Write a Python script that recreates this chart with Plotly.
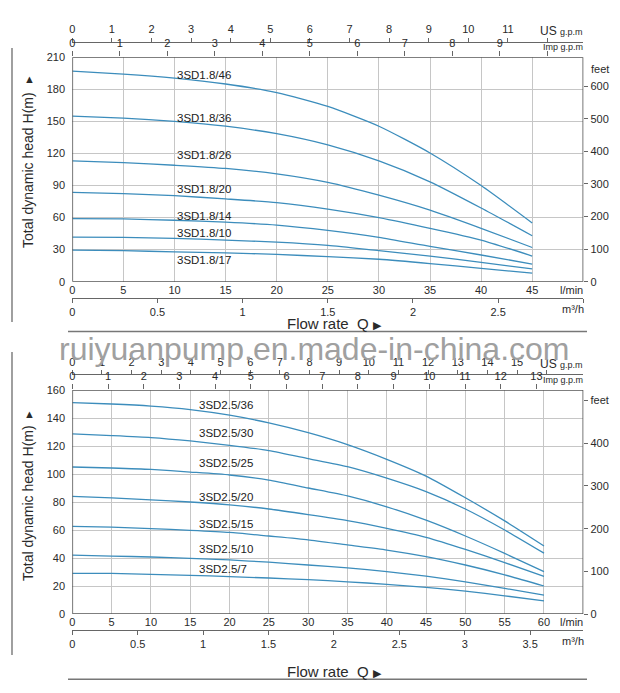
import plotly.graph_objects as go

W, H = 620, 693

# ---- 3SD1.8 series (flow in l/min, head in m) ----
q18 = [0, 5, 10, 15, 20, 25, 30, 35, 40, 45]
h18_46 = [197, 194.3, 190.5, 185, 177, 164, 145.5, 120.5, 90, 55]
h18_36 = [155, 153, 150, 145.5, 138.5, 128, 113, 93.5, 69, 43]
h18_26 = [113, 111.5, 109, 106, 101, 93, 81, 67, 50, 32]
h18_20 = [83.5, 82.5, 80.5, 77.5, 74, 68, 60, 50, 39, 24]
h18_14 = [59, 58.7, 57.5, 55.7, 53, 48, 41.5, 33, 25, 16.5]
h18_10 = [41.7, 41.4, 40.5, 39, 37, 34, 29, 24, 18, 12]
h18_17 = [29.5, 29, 28, 27, 25.5, 23.5, 21, 17, 12.5, 8]
names18 = ["3SD1.8/46", "3SD1.8/36", "3SD1.8/26", "3SD1.8/20",
           "3SD1.8/14", "3SD1.8/10", "3SD1.8/17"]
curves18 = [h18_46, h18_36, h18_26, h18_20, h18_14, h18_10, h18_17]

# ---- 3SD2.5 series ----
q25 = [0, 5, 10, 15, 20, 25, 30, 35, 40, 45, 50, 55, 60]
h25_36 = [151, 150, 148.5, 146, 142, 136.5, 129.5, 121, 110.5, 98.5, 83, 66.5, 48.6]
h25_30 = [128.6, 127.4, 126, 123.6, 120.5, 116.7, 111, 105.2, 97, 87.4, 75, 60, 43.5]
h25_25 = [105, 104.3, 103.3, 101.4, 99.3, 95.7, 90, 84.3, 76.6, 67, 55.7, 43.3, 30.3]
h25_20 = [84, 83, 81.5, 80, 78, 75, 71, 66.7, 61.2, 54.8, 46.2, 36.7, 26.8]
h25_15 = [62.6, 62, 61, 59.8, 58.3, 55.7, 53, 49.3, 45.7, 41, 35, 28, 20]
h25_10 = [42, 41.4, 40.7, 39.8, 38.6, 37, 35, 33, 30.2, 27, 23, 18.3, 13.5]
h25_7 = [29, 29, 28.3, 27.6, 26.7, 25.7, 24.5, 23, 21.2, 19, 16.4, 13, 9.3]
names25 = ["3SD2.5/36", "3SD2.5/30", "3SD2.5/25", "3SD2.5/20",
           "3SD2.5/15", "3SD2.5/10", "3SD2.5/7"]
curves25 = [h25_36, h25_30, h25_25, h25_20, h25_15, h25_10, h25_7]

# ---- tick values ----
lmin18_ticks = [0, 5, 10, 15, 20, 25, 30, 35, 40, 45]
lmin25_ticks = [0, 5, 10, 15, 20, 25, 30, 35, 40, 45, 50, 55, 60]
m_ticks18 = [0, 30, 60, 90, 120, 150, 180, 210]
m_ticks25 = [0, 20, 40, 60, 80, 100, 120, 140, 160]
m3h18_ticks = [0, 0.5, 1, 1.5, 2, 2.5, 3]
m3h18_text = ["0", "0.5", "1", "1.5", "2", "2.5", ""]
m3h25_ticks = [0, 0.5, 1, 1.5, 2, 2.5, 3, 3.5]
us18_ticks = list(range(0, 13))
us18_text = [str(v) for v in range(0, 12)] + [""]
imp18_ticks = list(range(0, 11))
imp18_text = [str(v) for v in range(0, 10)] + [""]
us25_ticks = list(range(0, 17))
us25_text = [str(v) for v in range(0, 16)] + [""]
imp25_ticks = list(range(0, 14))
feet18_ticks = [0, 100, 200, 300, 400, 500, 600]
feet25_ticks = [0, 100, 200, 300, 400, 500]
feet25_text = ["0", "100", "200", "300", "400", "feet"]

LINE = "#3c8dbc"
GRID = "#c6c6c6"
AX = "#666666"
TXT = "#2a2a2a"
SANS = "Liberation Sans, Arial, sans-serif"


def fx(px):
    return px / W


def fy(py):
    return 1 - py / H


XL, XR = 72.3, 583.3
tickfont = dict(family=SANS, size=11, color=TXT)

fig = go.Figure()

for name, hh in zip(names18, curves18):
    fig.add_trace(go.Scatter(x=q18, y=hh, mode="lines", name=name,
                             line=dict(color=LINE, width=1.3, shape="spline", smoothing=0.6),
                             xaxis="x", yaxis="y", hoverinfo="skip"))
for name, hh in zip(names25, curves25):
    fig.add_trace(go.Scatter(x=q25, y=hh, mode="lines", name=name,
                             line=dict(color=LINE, width=1.3, shape="spline", smoothing=0.6),
                             xaxis="x5", yaxis="y3", hoverinfo="skip"))

# invisible traces so the extra axes get drawn
for xa, ya in [("x2", "y"), ("x3", "y"), ("x4", "y"), ("x", "y2"),
               ("x6", "y3"), ("x7", "y3"), ("x8", "y3"), ("x5", "y4")]:
    fig.add_trace(go.Scatter(x=[0], y=[0], mode="markers", marker=dict(opacity=0),
                             xaxis=xa, yaxis=ya, hoverinfo="skip", showlegend=False))

base_x = dict(showgrid=True, gridcolor=GRID, gridwidth=1.3, zeroline=False, showline=False,
              ticks="", tickfont=tickfont, automargin=False)
base_y = dict(showgrid=True, gridcolor=GRID, gridwidth=1.3, zeroline=False, showline=False,
              ticks="outside", ticklen=4, tickcolor="rgba(0,0,0,0)", tickfont=tickfont,
              automargin=False)
sec = dict(showgrid=False, zeroline=False, showline=True, linecolor=AX, linewidth=1.2,
           ticks="outside", ticklen=4, tickcolor=AX, tickwidth=1, tickfont=tickfont,
           automargin=False)

fig.update_layout(
    template="none",
    width=W, height=H, margin=dict(l=0, r=0, t=0, b=0, pad=0),
    paper_bgcolor="white", plot_bgcolor="white", showlegend=False,
    # top chart
    xaxis=dict(base_x, domain=[fx(XL), fx(XR)], anchor="y", range=[0, 50], tickvals=lmin18_ticks),
    yaxis=dict(base_y, domain=[fy(281.7), fy(57.3)], anchor="x", range=[0, 210], tickvals=m_ticks18),
    xaxis2=dict(sec, overlaying="x", anchor="free", position=fy(297.7), side="bottom",
                range=[0, 3], tickvals=m3h18_ticks, ticktext=m3h18_text),
    xaxis3=dict(sec, overlaying="x", anchor="free", position=fy(41.7), side="top",
                range=[0, 511 / 39.6], tickvals=us18_ticks, ticktext=us18_text),
    xaxis4=dict(sec, overlaying="x", anchor="y", side="top", showline=False,
                range=[0, 511 / 47.5], tickvals=imp18_ticks, ticktext=imp18_text, ticklen=5),
    yaxis2=dict(sec, overlaying="y", anchor="x", side="right", showline=False,
                range=[0, 210 / 0.3048], tickvals=feet18_ticks),
    # bottom chart
    xaxis5=dict(base_x, domain=[fx(XL), fx(XR)], anchor="y3", range=[0, 65], tickvals=lmin25_ticks),
    yaxis3=dict(base_y, domain=[fy(614), fy(390)], anchor="x5", range=[0, 160], tickvals=m_ticks25),
    xaxis6=dict(sec, overlaying="x5", anchor="free", position=fy(630), side="bottom",
                range=[0, 511 / 130.8], tickvals=m3h25_ticks),
    xaxis7=dict(sec, overlaying="x5", anchor="free", position=fy(374.3), side="top",
                range=[0, 511 / 29.65], tickvals=us25_ticks, ticktext=us25_text),
    xaxis8=dict(sec, overlaying="x5", anchor="y3", side="top", showline=False,
                range=[0, 511 / 35.7], tickvals=imp25_ticks, ticklen=5),
    yaxis4=dict(sec, overlaying="y3", anchor="x5", side="right", showline=False,
                range=[0, 160 / 0.3048], tickvals=feet25_ticks, ticktext=feet25_text),
)

shapes = []
# plot frames
shapes.append(dict(type="rect", xref="x", yref="y", x0=0, x1=50, y0=0, y1=210,
                   line=dict(color="#555555", width=1.6), layer="above"))
shapes.append(dict(type="rect", xref="x5", yref="y3", x0=0, x1=65, y0=0, y1=160,
                   line=dict(color="#555555", width=1.6), layer="above"))
# decorative rules
for (x0, y0, x1, y1) in [(12, 48, 12, 322), (12, 352, 12, 655),
                         (68, 331.5, 587, 331.5), (68, 679.3, 587, 679.3)]:
    shapes.append(dict(type="line", xref="paper", yref="paper",
                       x0=fx(x0), y0=fy(y0), x1=fx(x1), y1=fy(y1),
                       line=dict(color="#777777", width=1.4)))
fig.update_layout(shapes=shapes)

ann = []


def note(text, px, py, xanchor="center", size=11, family=SANS, angle=0, color=TXT):
    ann.append(dict(text=text, x=fx(px), y=fy(py), xref="paper", yref="paper",
                    xanchor=xanchor, yanchor="middle", showarrow=False, textangle=angle,
                    font=dict(family=family, size=size, color=color)))


# curve labels
lab18_h = [193.8, 153.4, 118.2, 86.7, 61.5, 45.9, 20.3]
for name, yv in zip(names18, lab18_h):
    ann.append(dict(text=name, x=10, y=yv, xref="x", yref="y", xanchor="left",
                    yanchor="middle", showarrow=False, font=dict(family=SANS, size=11.5, color="#222")))
lab25_h = [149, 129.3, 107.6, 83.8, 64.3, 46.4, 32.4]
for name, yv in zip(names25, lab25_h):
    ann.append(dict(text=name, x=15.85, y=yv, xref="x5", yref="y3", xanchor="left",
                    yanchor="middle", showarrow=False, font=dict(family=SANS, size=11.5, color="#222")))

# unit labels
us_lbl = "US <span style='font-size:9px'>g.p.m</span>"
imp_lbl = "Imp g.p.m"
note(us_lbl, 585, 31.5, "right", 12)
note(imp_lbl, 585, 46.7, "right", 9)
note(us_lbl, 585, 364, "right", 12)
note(imp_lbl, 585, 380, "right", 9)
note("l/min", 585, 290, "right", 11)
note("l/min", 585, 622.3, "right", 11)
note("m³/h", 586, 309, "right", 11)
note("m³/h", 586, 640.7, "right", 11)
note("feet", 589, 69, "left", 11)

# axis titles
note("Total dynamic head H(m)", 28, 170, angle=-90, size=14)
note("▲", 29, 79, size=11)
note("Total dynamic head H(m)", 28, 503, angle=-90, size=14)
note("▲", 29, 414, size=11)
note("Flow rate  Q <span style='font-size:11px'>▶</span>", 334, 324, size=15)
note("Flow rate  Q <span style='font-size:11px'>▶</span>", 334, 671, size=15)

# watermark
note("ruiyuanpump.en.made-in-china.com", 314, 349, size=32, color="#a0a0a0")

fig.update_layout(annotations=ann)
# page body has a default 8px margin; drop it so the figure sits at the corner
fig.write_html("out.html", config={"displayModeBar": False},
               post_script="document.body.style.margin='0';")
